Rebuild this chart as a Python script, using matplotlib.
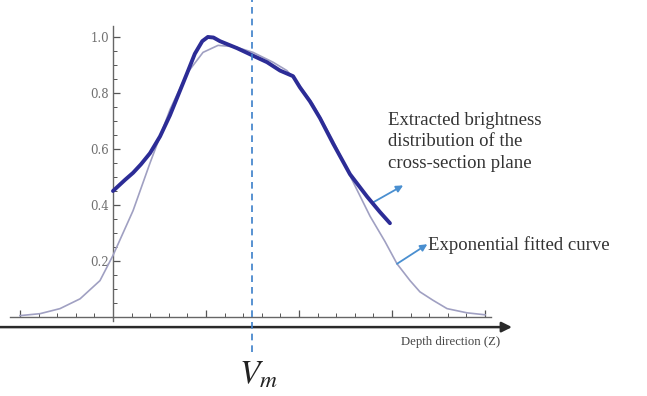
import numpy as np
import matplotlib.pyplot as plt
from matplotlib.ticker import FixedLocator

plt.rcParams['mathtext.fontset'] = 'stix'

# depth position (axis units) and brightness
fit_z = [-5.0, -3.92, -2.85, -1.77, -0.70, 0.0, 1.08, 1.99, 2.53, 3.06, 3.98, 4.84,
         5.65, 6.56, 7.53, 8.6, 9.35, 9.89, 10.75, 11.83, 12.85, 13.82, 14.62, 15.27,
         15.97, 16.5, 17.2, 17.96, 19.03, 20.0]
fit_v = [0.005, 0.012, 0.03, 0.065, 0.13, 0.22, 0.38, 0.55, 0.645, 0.74, 0.87, 0.945,
         0.97, 0.965, 0.945, 0.91, 0.88, 0.84, 0.76, 0.63, 0.49, 0.36, 0.27, 0.19,
         0.13, 0.09, 0.06, 0.03, 0.015, 0.008]

ext_z = [0.0, 0.65, 1.08, 1.5, 1.99, 2.53, 3.06, 3.49, 3.98, 4.4, 4.8, 5.1, 5.4, 5.75,
         6.67, 7.47, 8.28, 8.98, 9.68, 10.05, 10.59, 11.13, 11.83, 12.74, 13.66, 14.35,
         14.89]
ext_v = [0.45, 0.49, 0.515, 0.545, 0.585, 0.645, 0.72, 0.79, 0.87, 0.94, 0.985, 1.0,
         0.998, 0.985, 0.96, 0.935, 0.91, 0.88, 0.86, 0.82, 0.77, 0.71, 0.62, 0.51, 0.43,
         0.375, 0.335]

vm_z = 7.47
y_major = [0.2, 0.4, 0.6, 0.8, 1.0]
y_minor = [0.05 * i for i in range(1, 21)]
x_major = [-5, 5, 10, 15, 20]
x_minor = list(range(-5, 21))

fig = plt.figure(figsize=(6.47, 3.96), dpi=100)
ax = fig.add_axes([0, 0, 1, 1])
ax.set_xlim(-6.075, 28.71)
ax.set_ylim(-0.282, 1.132)

ax.plot(fit_z, fit_v, color='#a0a0c2', lw=1.2, zorder=3)
ax.plot(ext_z, ext_v, color='#2c2c96', lw=2.8, solid_capstyle='round',
        solid_joinstyle='round', zorder=4)

# Mathematica style axes crossing at zero
for s in ['top', 'right']:
    ax.spines[s].set_visible(False)
ax.spines['left'].set_position(('data', 0))
ax.spines['bottom'].set_position(('data', 0))
ax.spines['left'].set_bounds(-0.015, 1.04)
ax.spines['bottom'].set_bounds(-5.55, 20.3)
for s in ['left', 'bottom']:
    ax.spines[s].set_color('#666666')
    ax.spines[s].set_linewidth(1.0)

ax.xaxis.set_major_locator(FixedLocator(x_major))
ax.xaxis.set_minor_locator(FixedLocator(x_minor))
ax.yaxis.set_major_locator(FixedLocator(y_major))
ax.yaxis.set_minor_locator(FixedLocator(y_minor))
ax.set_xticklabels([])
ax.set_yticklabels(['%.1f' % v for v in y_major], family='DejaVu Serif',
                   fontsize=8.5, color='#707070')
ax.tick_params(which='both', direction='in', color='#555555')
ax.tick_params(which='major', length=5, width=0.9)
ax.tick_params(which='minor', length=3, width=0.7)
ax.tick_params(axis='y', pad=3)

# outer depth arrow
ax.annotate('', xy=(21.45, -0.036), xytext=(-6.1, -0.036),
            arrowprops=dict(arrowstyle='-|>', color='#2a2a2a', lw=1.8,
                            mutation_scale=15, shrinkA=0, shrinkB=0))
ax.text(20.8, -0.09, 'Depth direction (Z)', family='Liberation Serif', fontsize=9.2,
        color='#444444', ha='right', va='center')

# V_m marker
ax.plot([vm_z, vm_z], [-0.125, 1.132], color='#3b7fca', lw=1.2, ls=(0, (4, 3)), zorder=5)
ax.text(vm_z + 0.35, -0.205, r'$V_m$', fontsize=24, color='#222222',
        ha='center', va='center')

# callouts
arrow_kw = dict(arrowstyle='-|>', color='#4a8fd0', lw=1.3, mutation_scale=10,
                shrinkA=0, shrinkB=0)
ax.annotate('', xy=(15.6, 0.47), xytext=(14.0, 0.41), arrowprops=arrow_kw)
ax.text(14.8, 0.625, 'Extracted brightness\ndistribution of the\ncross-section plane',
        family='Liberation Serif', fontsize=13.5, color='#333333', ha='left',
        va='center', linespacing=1.38)
ax.annotate('', xy=(16.9, 0.26), xytext=(15.27, 0.19), arrowprops=arrow_kw)
ax.text(16.95, 0.258, 'Exponential fitted curve', family='Liberation Serif',
        fontsize=13.5, color='#333333', ha='left', va='center')

fig.savefig('out.png', dpi=100)
